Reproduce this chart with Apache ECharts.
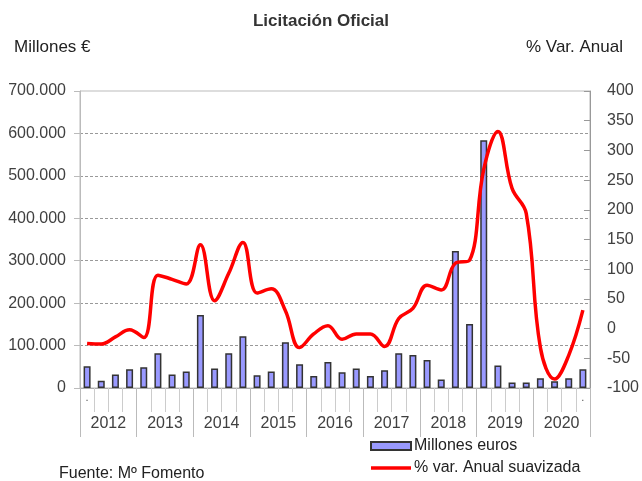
<!DOCTYPE html>
<html>
<head>
<meta charset="utf-8">
<script src="https://cdn.jsdelivr.net/npm/echarts@6/dist/echarts.min.js"></script>
<style>
html,body{margin:0;padding:0;background:#fff;}
#c{width:642px;height:481px;}
</style>
</head>
<body>
<div id="c"></div>
<script>
var years = ['2012','2013','2014','2015','2016','2017','2018','2019','2020'];
var quarters = [];
years.forEach(function(y){ ['T1','T2','T3','T4'].forEach(function(q){ quarters.push(y + ' ' + q); }); });

var millonesEuros = [51000,17000,32000,44000,49000,82000,32000,39000,172000,46000,82000,122000,
  30000,39000,108000,56000,28000,61000,37000,46000,28000,42000,82000,78000,
  66000,20000,323000,151000,584000,53000,13000,13000,23000,16000,23000,44000];

var varAnual = [-25,-26,-14,-2,-15,90,83,75,141,47,93,145,
  60,67,30,-32,-9,5,-18,-9,-9,-30,17,34,
  73,65,110,115,268,332,236,194,-32,-85,-45,31];

var leftTicks = {min:0, max:700000, interval:100000};
var rightTicks = {min:-100, max:400, interval:50};

var txt = '#404040';
var font = 'Liberation Sans, Arial, sans-serif';

var chart = echarts.init(document.getElementById('c'), null, {renderer:'canvas'});
chart.setOption({
  animation:false,
  backgroundColor:'#fff',
  textStyle:{fontFamily:font},
  title:[
    {text:'Licitación Oficial', left:'center', top:8, textStyle:{fontSize:17, fontWeight:'bold', color:'#333', fontFamily:font}},
    {text:'Millones €', left:9, top:34, textStyle:{fontSize:17, fontWeight:'normal', color:'#222', fontFamily:font}},
    {text:'% Var. Anual', right:14, top:34, textStyle:{fontSize:17, fontWeight:'normal', color:'#222', fontFamily:font}},
    {text:'Fuente: Mº Fomento', left:54, top:461, textStyle:{fontSize:16, fontWeight:'normal', color:'#222', fontFamily:font}}
  ],
  legend:{
    orient:'vertical', left:370, top:438, padding:0, itemGap:6, itemWidth:40, itemHeight:8,
    textStyle:{fontSize:16, color:'#222', fontFamily:font, padding:[0,0,0,-2]},
    data:[{name:'Millones euros', icon:'rect'},
          {name:'% var. Anual suavizada', icon:'path://M0 0H40V3.5H0Z'}]
  },
  grid:{left:80, right:47, top:91, bottom:93, show:true, borderColor:'#bbb', borderWidth:1},
  xAxis:[
    {type:'category', data:quarters, position:'bottom',
     axisLine:{show:true, onZero:false, lineStyle:{color:'#aaa'}},
     axisTick:{show:true, interval:0, length:24, lineStyle:{color:'#ccc'}},
     axisLabel:{interval:0, margin:4, fontSize:11, color:'#555',
       formatter:function(v, i){ return (i===0 || i===quarters.length-1) ? '.' : ''; }},
     splitLine:{show:false}},
    {type:'category', data:years, position:'bottom',
     axisLine:{show:false, onZero:false},
     axisTick:{show:true, interval:0, length:49, lineStyle:{color:'#bbb'}},
     axisLabel:{interval:0, margin:28, fontSize:16, color:txt, fontFamily:font},
     splitLine:{show:false}}
  ],
  yAxis:[
    {type:'value', position:'left', min:leftTicks.min, max:leftTicks.max, interval:leftTicks.interval,
     axisLine:{show:true, lineStyle:{color:'#bbb'}},
     axisTick:{show:true, length:6, lineStyle:{color:'#bbb'}},
     axisLabel:{margin:14, fontSize:16, color:txt, fontFamily:font,
       formatter:function(v){ return String(v).replace(/\B(?=(\d{3})+(?!\d))/g,'.'); }},
     splitLine:{show:true, showMinLine:false, showMaxLine:false, lineStyle:{color:'#999', type:[3,2], width:1}}},
    {type:'value', position:'right', min:rightTicks.min, max:rightTicks.max, interval:rightTicks.interval,
     axisLine:{show:true, lineStyle:{color:'#999'}},
     axisTick:{show:true, inside:true, length:6, lineStyle:{color:'#999'}},
     axisLabel:{margin:17, fontSize:16, color:txt, fontFamily:font},
     splitLine:{show:false}}
  ],
  series:[
    {name:'Millones euros', type:'bar', xAxisIndex:0, yAxisIndex:0, data:millonesEuros, barWidth:7,
     itemStyle:{color:'#9999FF', borderColor:'#333', borderWidth:1.5}, z:2},
    {name:'% var. Anual suavizada', type:'line', xAxisIndex:0, yAxisIndex:1, data:varAnual,
     smooth:0.4, symbol:'none', lineStyle:{color:'#FF0000', width:3.5}, itemStyle:{color:'#FF0000'}, z:3}
  ]
});
</script>
</body>
</html>
